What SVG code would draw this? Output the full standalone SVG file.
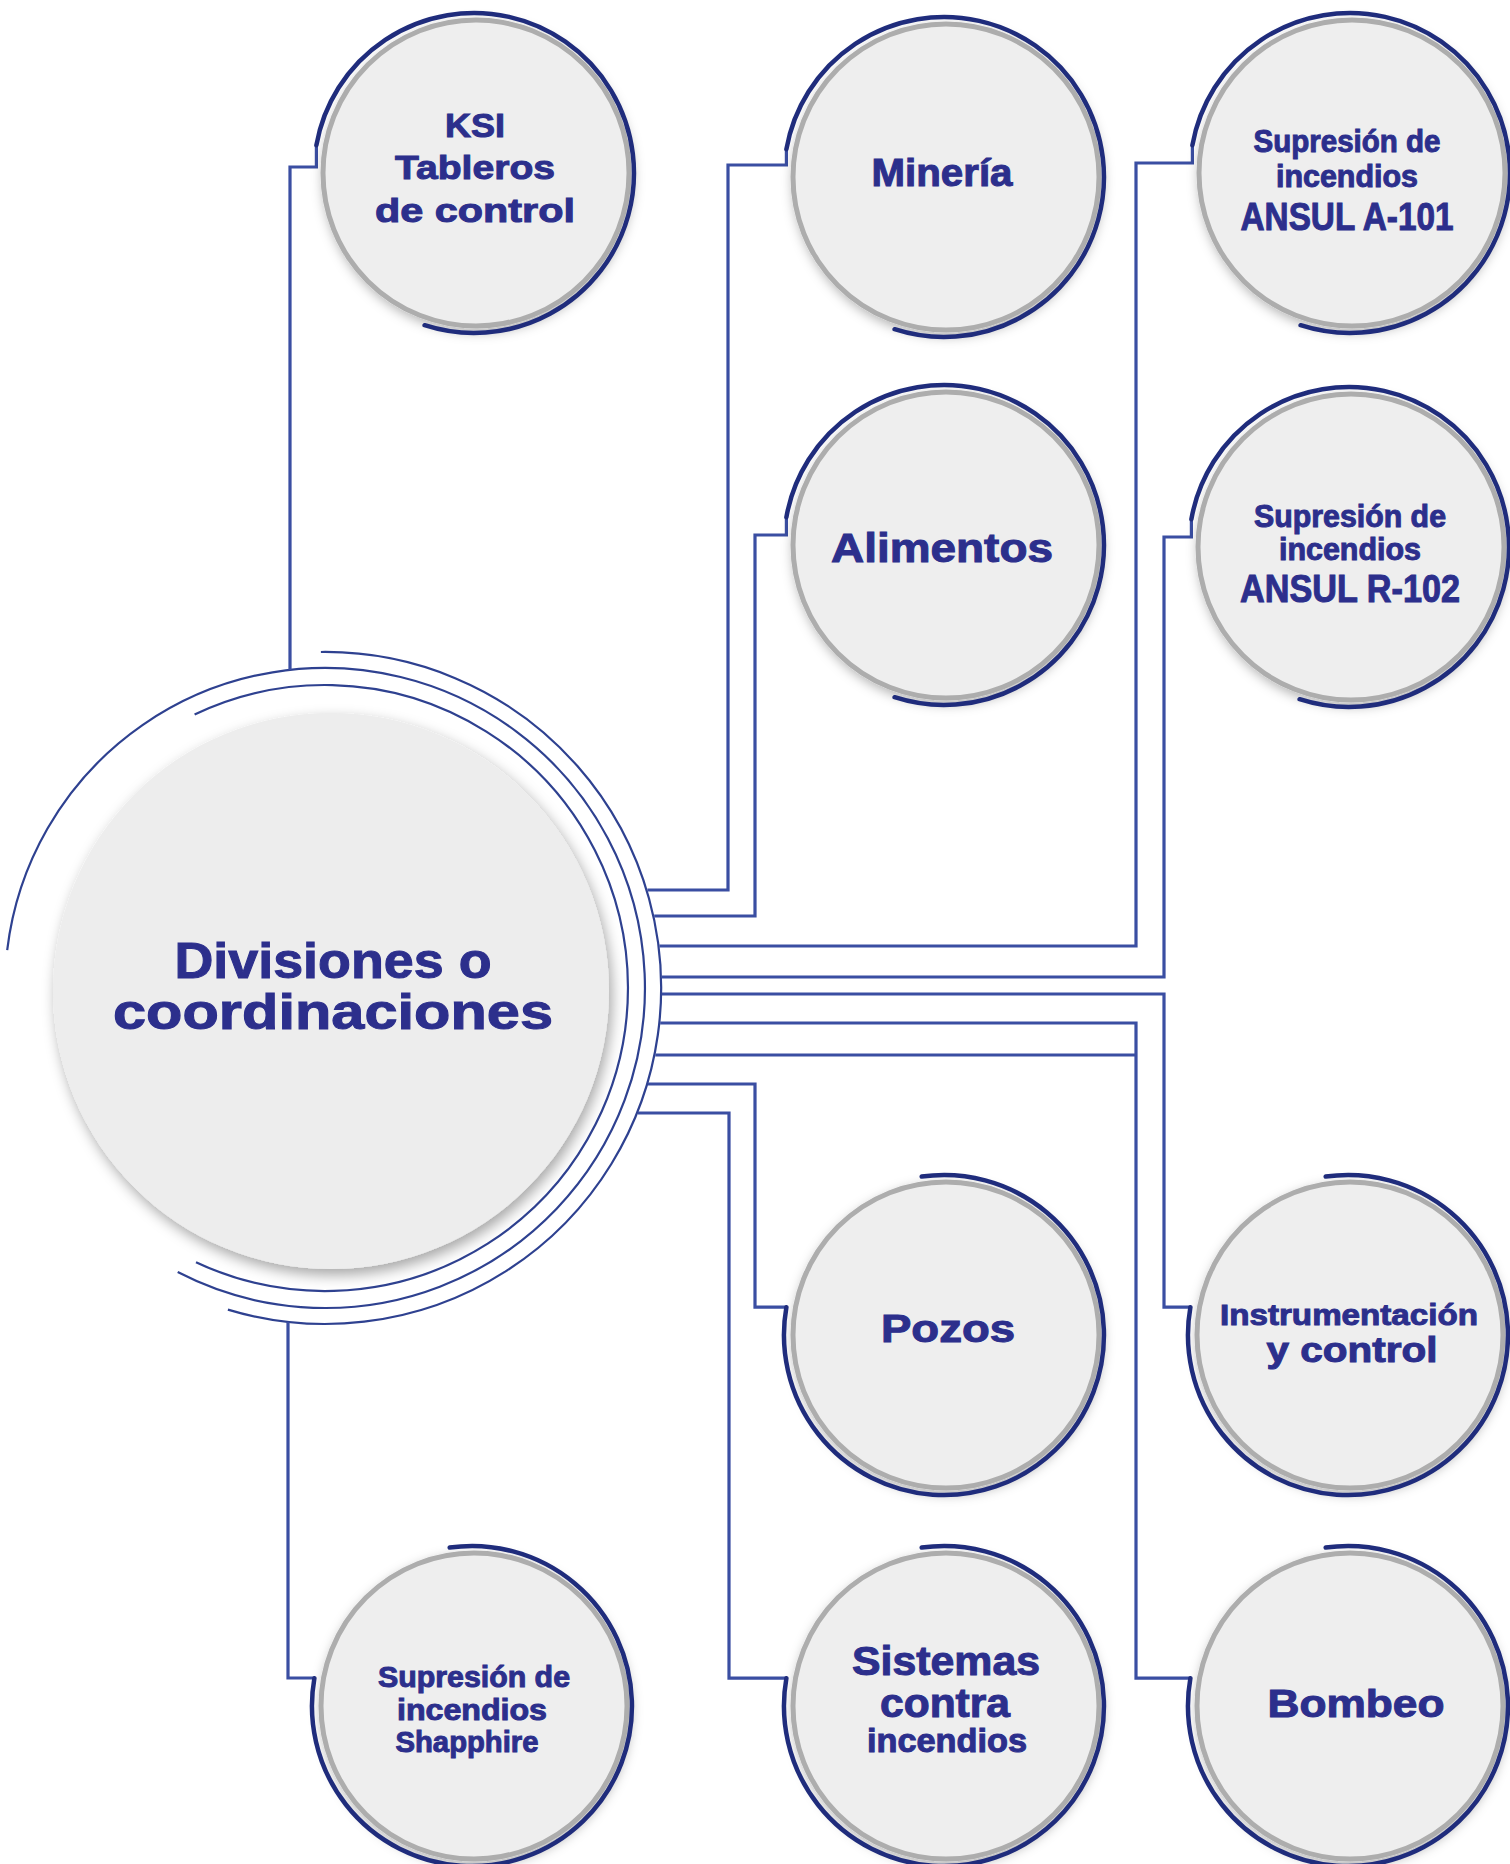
<svg xmlns="http://www.w3.org/2000/svg" width="1510" height="1864" viewBox="0 0 1510 1864">
<style>
.bg{fill:#ffffff}
.disc{fill:#eeeeee;stroke:#adadad;stroke-width:5}
.cdisc{fill:#ededed}
.arc{fill:none;stroke:#1f2c7c;stroke-width:4.5;stroke-linecap:round}
.ring{fill:none;stroke:#2e4190;stroke-width:2.2}
.conn{fill:none;stroke:#3a4ea2;stroke-width:3.2}
text{font-family:"Liberation Sans",Arial,sans-serif;font-weight:bold;fill:#2c2f8c;stroke:#2c2f8c;stroke-width:1;text-anchor:middle}
</style>
<defs>
<filter id="sh" x="-20%" y="-20%" width="140%" height="140%">
<feDropShadow dx="2" dy="4" stdDeviation="6" flood-color="#000" flood-opacity="0.3"/>
</filter>
<filter id="shc" x="-20%" y="-20%" width="140%" height="140%">
<feDropShadow dx="3" dy="6" stdDeviation="7" flood-color="#000" flood-opacity="0.35"/>
</filter>
</defs>
<rect class="bg" x="0" y="0" width="1510" height="1864"/>

<g id="connectors">
<path class="ring" d="M 320.9 652 A 336 336 0 1 1 227.9 1309.6"/>
<path class="ring" d="M 7.2 950.1 A 320 320 0 1 1 177.7 1272.1"/>
<path class="ring" d="M 194.6 714.5 A 303 303 0 1 1 196 1262.2"/>
<path class="conn" d="M 290 670 V 167 H 316.4 V 145.2"/>
<path class="conn" d="M 288 1322 V 1678 H 314.4"/>
<path class="conn" d="M 647.4 890 H 728 V 165 H 786.4 V 149.2"/>
<path class="conn" d="M 654.2 916 H 755 V 535 H 786.4 V 517.2"/>
<path class="conn" d="M 659.4 946 H 1136 V 163 H 1192.4 V 145.2"/>
<path class="conn" d="M 661.8 977 H 1164 V 537 H 1191.4 V 519.2"/>
<path class="conn" d="M 661.9 994 H 1164 V 1307.2 H 1190.4"/>
<path class="conn" d="M 660.2 1023 H 1136 V 1678.2 H 1190.4"/>
<path class="conn" d="M 655.3 1055 H 1136"/>
<path class="conn" d="M 648 1084 H 755 V 1307.2 H 786.4"/>
<path class="conn" d="M 638 1113 H 729 V 1678.2 H 786.4"/>
</g>

<g id="center">
<circle class="cdisc" cx="331" cy="991" r="278" filter="url(#shc)"/>
<text x="333" y="978" font-size="50" textLength="317" lengthAdjust="spacingAndGlyphs">Divisiones o</text>
<text x="333" y="1029" font-size="50" textLength="440" lengthAdjust="spacingAndGlyphs">coordinaciones</text>
</g>

<g id="ksi">
<circle class="disc" cx="476" cy="173" r="153" filter="url(#sh)"/>
<path class="arc" d="M 316.4 145.2 A 160 160 0 1 1 424.6 325.2"/>
<text x="475" y="137" font-size="34" textLength="60" lengthAdjust="spacingAndGlyphs">KSI</text>
<text x="475" y="179" font-size="34" textLength="160" lengthAdjust="spacingAndGlyphs">Tableros</text>
<text x="475" y="222" font-size="34" textLength="200" lengthAdjust="spacingAndGlyphs">de control</text>
</g>

<g id="mineria">
<circle class="disc" cx="946" cy="177" r="153" filter="url(#sh)"/>
<path class="arc" d="M 786.4 149.2 A 160 160 0 1 1 894.6 329.2"/>
<text x="942" y="186" font-size="38" textLength="141" lengthAdjust="spacingAndGlyphs">Minería</text>
</g>

<g id="alimentos">
<circle class="disc" cx="946" cy="545" r="153" filter="url(#sh)"/>
<path class="arc" d="M 786.4 517.2 A 160 160 0 1 1 894.6 697.2"/>
<text x="942" y="562" font-size="41" textLength="222" lengthAdjust="spacingAndGlyphs">Alimentos</text>
</g>

<g id="ansul-a101">
<circle class="disc" cx="1352" cy="173" r="153" filter="url(#sh)"/>
<path class="arc" d="M 1192.4 145.2 A 160 160 0 1 1 1300.6 325.2"/>
<text x="1347" y="152" font-size="31" textLength="187" lengthAdjust="spacingAndGlyphs">Supresión de</text>
<text x="1347" y="187" font-size="31" textLength="142" lengthAdjust="spacingAndGlyphs">incendios</text>
<text x="1347" y="230" font-size="38" textLength="213" lengthAdjust="spacingAndGlyphs">ANSUL A-101</text>
</g>

<g id="ansul-r102">
<circle class="disc" cx="1351" cy="547" r="153" filter="url(#sh)"/>
<path class="arc" d="M 1191.4 519.2 A 160 160 0 1 1 1299.6 699.2"/>
<text x="1350" y="527" font-size="31" textLength="192" lengthAdjust="spacingAndGlyphs">Supresión de</text>
<text x="1350" y="560" font-size="31" textLength="142" lengthAdjust="spacingAndGlyphs">incendios</text>
<text x="1350" y="602" font-size="38" textLength="220" lengthAdjust="spacingAndGlyphs">ANSUL R-102</text>
</g>

<g id="pozos">
<circle class="disc" cx="946" cy="1335" r="153" filter="url(#sh)"/>
<path class="arc" d="M 921.7 1176.6 A 160 160 0 1 1 786.4 1307.2"/>
<text x="948" y="1342" font-size="39" textLength="134" lengthAdjust="spacingAndGlyphs">Pozos</text>
</g>

<g id="instrumentacion">
<circle class="disc" cx="1350" cy="1335" r="153" filter="url(#sh)"/>
<path class="arc" d="M 1325.7 1176.6 A 160 160 0 1 1 1190.4 1307.2"/>
<text x="1349" y="1325" font-size="30" textLength="258" lengthAdjust="spacingAndGlyphs">Instrumentación</text>
<text x="1352" y="1362" font-size="35" textLength="171" lengthAdjust="spacingAndGlyphs">y control</text>
</g>

<g id="shapphire">
<circle class="disc" cx="474" cy="1706" r="153" filter="url(#sh)"/>
<path class="arc" d="M 449.7 1547.6 A 160 160 0 1 1 314.4 1678.2"/>
<text x="474" y="1687" font-size="30" textLength="192" lengthAdjust="spacingAndGlyphs">Supresión de</text>
<text x="472" y="1720" font-size="30" textLength="150" lengthAdjust="spacingAndGlyphs">incendios</text>
<text x="467" y="1752" font-size="30" textLength="143" lengthAdjust="spacingAndGlyphs">Shapphire</text>
</g>

<g id="sistemas">
<circle class="disc" cx="946" cy="1706" r="153" filter="url(#sh)"/>
<path class="arc" d="M 921.7 1547.6 A 160 160 0 1 1 786.4 1678.2"/>
<text x="946" y="1675" font-size="40" textLength="188" lengthAdjust="spacingAndGlyphs">Sistemas</text>
<text x="945" y="1717" font-size="40" textLength="130" lengthAdjust="spacingAndGlyphs">contra</text>
<text x="947" y="1752" font-size="33" textLength="160" lengthAdjust="spacingAndGlyphs">incendios</text>
</g>

<g id="bombeo">
<circle class="disc" cx="1350" cy="1706" r="153" filter="url(#sh)"/>
<path class="arc" d="M 1325.7 1547.6 A 160 160 0 1 1 1190.4 1678.2"/>
<text x="1356" y="1717" font-size="38" textLength="177" lengthAdjust="spacingAndGlyphs">Bombeo</text>
</g>
</svg>
